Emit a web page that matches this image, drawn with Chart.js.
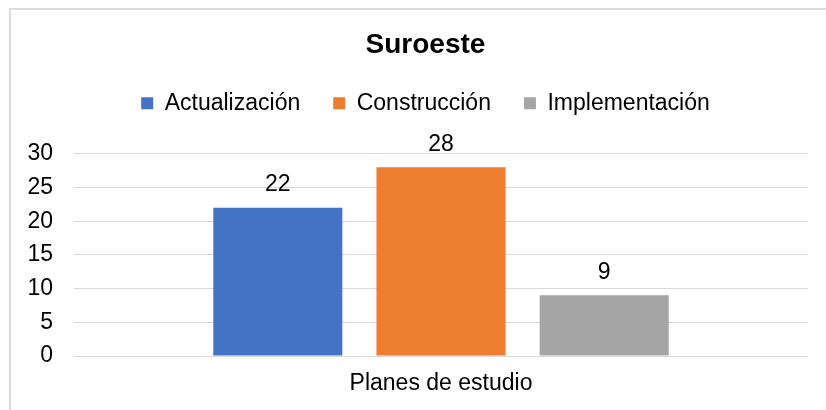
<!DOCTYPE html>
<html>
<head>
<meta charset="utf-8">
<script src="https://cdn.jsdelivr.net/npm/chart.js@4"></script>
<style>
  html, body { margin: 0; padding: 0; background: #fff; }
  #wrap { position: relative; width: 826px; height: 410px; overflow: hidden; }
  #frame { position: absolute; left: 9px; top: 8px; width: 900px; height: 500px;
           border-left: 2px solid #dcdcdc; border-top: 2px solid #dcdcdc; box-sizing: border-box; }
  canvas { position: absolute; left: 0; top: 0; }
</style>
</head>
<body>
<div id="wrap">
  <div id="frame"></div>
  <canvas id="c" width="826" height="410"></canvas>
</div>
<script>
const title = 'Suroeste';
const categories = ['Planes de estudio'];
const seriesNames = ['Actualización', 'Construcción', 'Implementación'];
const actualizacion = [22];
const construccion = [28];
const implementacion = [9];
const yTicks = [0, 5, 10, 15, 20, 25, 30];

const colors = ['#4472C4', '#ED7D31', '#A5A5A5'];
const FONT = "'Liberation Sans', Arial, sans-serif";

Chart.defaults.font.family = FONT;
Chart.defaults.color = '#000';

const dataLabels = {
  id: 'dataLabels',
  afterDatasetsDraw(chart) {
    const ctx = chart.ctx;
    ctx.save();
    ctx.font = '23px ' + FONT;
    ctx.fillStyle = '#000';
    ctx.textAlign = 'center';
    ctx.textBaseline = 'middle';
    chart.data.datasets.forEach((ds, i) => {
      const meta = chart.getDatasetMeta(i);
      meta.data.forEach((bar, j) => {
        ctx.fillText(String(ds.data[j]), bar.x, bar.y - 23);
      });
    });
    ctx.restore();
  }
};

new Chart(document.getElementById('c'), {
  type: 'bar',
  data: {
    labels: categories,
    datasets: [
      { label: seriesNames[0], data: actualizacion, backgroundColor: colors[0] },
      { label: seriesNames[1], data: construccion, backgroundColor: colors[1] },
      { label: seriesNames[2], data: implementacion, backgroundColor: colors[2] }
    ]
  },
  options: {
    responsive: false,
    animation: false,
    devicePixelRatio: 1,
    categoryPercentage: 0.667,
    barPercentage: 0.791,
    layout: { padding: { left: 26, right: 1, top: 0, bottom: 14 } },
    plugins: {
      title: {
        display: true, text: title,
        font: { size: 28, weight: 'bold', lineHeight: 1.1 },
        color: '#000',
        padding: { top: 30, bottom: -2 }
      },
      legend: {
        display: true, position: 'top',
        labels: {
          boxWidth: 12, boxHeight: 12, padding: 33,
          font: { size: 23 }, color: '#000'
        }
      },
      subtitle: {
        display: true, text: ' ', weight: 500,
        font: { size: 10, lineHeight: 1 },
        padding: { top: 19, bottom: 0 }
      },
      tooltip: { enabled: false }
    },
    scales: {
      x: {
        grid: { display: false, drawTicks: false },
        border: { display: false },
        afterFit: s => { s.height = 40; },
        ticks: { font: { size: 23 }, color: '#000', padding: 14 }
      },
      y: {
        min: 0, max: 30,
        afterBuildTicks: s => { s.ticks = yTicks.map(v => ({ value: v })); },
        afterFit: s => { s.width = 48; },
        grid: { color: '#d9d9d9', lineWidth: 1, drawTicks: false },
        border: { display: false },
        ticks: { font: { size: 23 }, color: '#000', padding: 21 }
      },
      y2: {
        type: 'linear', position: 'right', display: true,
        grid: { display: false, drawTicks: false },
        border: { display: false },
        ticks: { display: false },
        afterFit: s => { s.width = 17; }
      }
    }
  },
  plugins: [dataLabels]
});
</script>
</body>
</html>
